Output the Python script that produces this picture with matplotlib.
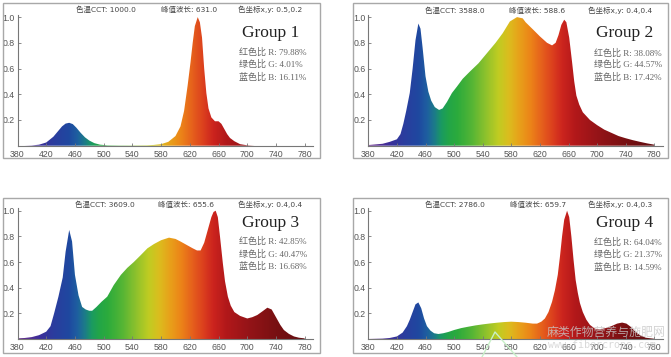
import numpy as np
import matplotlib
matplotlib.use("Agg")
import matplotlib.pyplot as plt
from matplotlib.colors import LinearSegmentedColormap
from matplotlib.patches import Polygon, Rectangle
from matplotlib.lines import Line2D

# ---------------- data ----------------
groups = ["Group 1", "Group 2", "Group 3", "Group 4"]
cct = ["1000.0", "3588.0", "3609.0", "2786.0"]
peak_wl = ["631.0", "588.6", "655.6", "659.7"]
xy_coord = ["0.5,0.2", "0.4,0.4", "0.4,0.4", "0.4,0.3"]
red_ratio = ["79.88%", "38.08%", "42.85%", "64.04%"]
green_ratio = ["4.01%", "44.57%", "40.47%", "21.37%"]
blue_ratio = ["16.11%", "17.42%", "16.68%", "14.59%"]

wl1 = [380, 390, 400, 410, 420, 430, 436, 442, 447, 452, 457, 462, 468, 474, 480, 487, 495, 505, 520,
       540, 560, 570, 580, 590, 600, 607, 612, 617, 621, 624, 627, 631, 634, 637, 640, 643, 646, 650,
       655, 660, 664, 668, 672, 676, 682, 690, 700, 710]
v1 = [0, 0, 0.002, 0.008, 0.025, 0.07, 0.11, 0.15, 0.172, 0.178, 0.168, 0.14, 0.10, 0.065, 0.04, 0.02,
      0.008, 0.003, 0.002, 0.002, 0.003, 0.006, 0.012, 0.03, 0.075, 0.15, 0.27, 0.47, 0.65, 0.80, 0.93,
      1.0, 0.96, 0.84, 0.60, 0.41, 0.29, 0.22, 0.19, 0.19, 0.17, 0.13, 0.09, 0.06, 0.035, 0.012, 0.003, 0.0]

wl2 = [380, 390, 400, 410, 420, 425, 429, 433, 438, 442, 446, 450, 453, 456, 460, 464, 468, 473, 479,
       484, 490, 497, 504, 512, 522, 534, 546, 558, 568, 578, 588, 596, 600, 611, 620, 630, 637, 642,
       646, 650, 654, 657, 661, 665, 668, 671, 675, 680, 690, 700, 710, 720, 730, 740, 750, 760, 770, 780]
v2 = [0.005, 0.01, 0.015, 0.03, 0.05, 0.09, 0.17, 0.27, 0.41, 0.6, 0.82, 0.95, 0.91, 0.76, 0.54, 0.42,
      0.35, 0.30, 0.278, 0.29, 0.34, 0.41, 0.46, 0.52, 0.576, 0.64, 0.72, 0.80, 0.875, 0.966, 1.0, 0.99,
      0.96, 0.90, 0.85, 0.80, 0.78, 0.80, 0.86, 0.94, 0.98, 0.96, 0.84, 0.65, 0.50, 0.39, 0.32, 0.26,
      0.20, 0.16, 0.125, 0.10, 0.075, 0.058, 0.043, 0.03, 0.018, 0.008]

wl3 = [380, 390, 400, 410, 420, 426, 431, 437, 443, 447, 452, 456, 460, 465, 470, 475, 480, 484, 490,
       497, 505, 514, 524, 533, 542, 551, 561, 570, 580, 591, 600, 607, 615, 624, 630, 635, 640, 645,
       650, 653, 656, 659, 662, 666, 669, 673, 677, 682, 690, 700, 707, 714, 721, 728, 734, 740, 746,
       751, 758, 765, 772, 780]
v3 = [0.005, 0.008, 0.015, 0.03, 0.057, 0.10, 0.20, 0.33, 0.48, 0.68, 0.85, 0.76, 0.50, 0.34, 0.25,
      0.23, 0.22, 0.22, 0.25, 0.29, 0.33, 0.42, 0.50, 0.555, 0.60, 0.65, 0.707, 0.74, 0.77, 0.79, 0.78,
      0.76, 0.735, 0.707, 0.69, 0.69, 0.75, 0.85, 0.95, 0.99, 1.0, 0.95, 0.80, 0.59, 0.45, 0.33, 0.26,
      0.21, 0.18, 0.16, 0.17, 0.187, 0.215, 0.244, 0.23, 0.17, 0.11, 0.07, 0.04, 0.02, 0.01, 0.005]

wl4 = [380, 400, 410, 420, 428, 434, 438, 442, 446, 450, 454, 458, 462, 467, 472, 478, 485, 492, 500,
       510, 520, 530, 540, 550, 560, 570, 580, 590, 600, 610, 616, 622, 627, 632, 637, 641, 645, 648,
       651, 654, 658, 661, 664, 667, 670, 673, 676, 680, 685, 690, 697, 704, 712, 720, 728, 735, 741,
       747, 753, 760, 768, 780]
v4 = [0.0, 0.003, 0.008, 0.02, 0.05, 0.10, 0.15, 0.21, 0.27, 0.285, 0.24, 0.16, 0.10, 0.065, 0.045,
      0.039, 0.045, 0.055, 0.07, 0.085, 0.096, 0.106, 0.114, 0.121, 0.127, 0.132, 0.135, 0.132, 0.127,
      0.12, 0.12, 0.135, 0.16, 0.21, 0.29, 0.38, 0.50, 0.64, 0.80, 0.93, 1.0, 0.95, 0.80, 0.62, 0.46,
      0.36, 0.28, 0.21, 0.15, 0.11, 0.08, 0.075, 0.085, 0.10, 0.12, 0.128, 0.12, 0.095, 0.06, 0.03,
      0.01, 0.002]

spectra = [(wl1, v1), (wl2, v2), (wl3, v3), (wl4, v4)]
xticks = [380, 420, 460, 500, 540, 580, 620, 660, 700, 740, 780]
yticks = [0.2, 0.4, 0.6, 0.8, 1.0]

# ---------------- style ----------------
W, H = 671, 357
XMIN, XMAX = 380, 792
YMAX = 1.02

stops = [(380, "#6a2c8c"), (410, "#3b2f9a"), (430, "#2a3d9e"), (450, "#1f48a0"), (462, "#1e5fa0"),
         (472, "#1c7a8a"), (482, "#1a9a62"), (492, "#22a548"), (505, "#2cab3c"), (525, "#55b535"),
         (545, "#90c22c"), (562, "#c0cc22"), (577, "#dcbc1e"), (592, "#e8a01a"), (607, "#ec8418"),
         (622, "#e6621c"), (638, "#dc401e"), (652, "#cc241e"), (670, "#b2181a"), (700, "#961418"),
         (740, "#781012"), (792, "#5c0c10")]
cmap = LinearSegmentedColormap.from_list(
    "spec", [((w - XMIN) / (XMAX - XMIN), c) for w, c in stops])

axes_px = [
    dict(x380=17.5, ppn=0.718, y0=145.7, ppu=128.6, frame=(3, 3, 320, 158)),
    dict(x380=368.3, ppn=0.715, y0=145.7, ppu=128.6, frame=(353, 3, 668, 158)),
    dict(x380=17.5, ppn=0.718, y0=339.0, ppu=128.3, frame=(3, 198, 320, 353)),
    dict(x380=368.3, ppn=0.715, y0=339.0, ppu=128.3, frame=(353, 198, 668, 353)),
]
header_pos = [
    (9.5, [106, 189, 270]),
    (10, [455, 537, 620]),
    (204.5, [105, 186.5, 270]),
    (204.5, [455, 538, 620]),
]
title_pos = [(271, 33), (625, 33), (271, 223), (625, 223)]
ratio_pos = [(239, [52.7, 64.6, 77.0]), (594, [53, 64.8, 77.0]),
             (239, [241.8, 254, 266.5]), (594, [242, 254.5, 267])]

fig = plt.figure(figsize=(W / 100, H / 100), dpi=100)
fig.patch.set_facecolor("white")


def fx(px):
    return px / W


def fy(py):
    return 1 - py / H


grad = np.linspace(XMIN, XMAX, 800).reshape(1, -1)
cjk_sans = ["DejaVu Sans", "Noto Sans CJK SC"]
cjk_serif = ["Liberation Serif", "Noto Sans CJK SC"]

for i, (wl, v) in enumerate(spectra):
    p = axes_px[i]
    left = p["x380"]
    width = (XMAX - XMIN) * p["ppn"]
    ax = fig.add_axes([fx(left), fy(p["y0"]), width / W, YMAX * p["ppu"] / H])
    ax.set_facecolor("none")

    verts = [(wl[0], 0)] + list(zip(wl, v)) + [(wl[-1], 0)]
    poly = Polygon(verts, closed=True, facecolor="none", edgecolor="none")
    ax.add_patch(poly)
    im = ax.imshow(grad, extent=[XMIN, XMAX, 0, YMAX], aspect="auto", cmap=cmap,
                   vmin=XMIN, vmax=XMAX, origin="lower", interpolation="bilinear")
    im.set_clip_path(poly)

    ax.set_xlim(XMIN, XMAX)
    ax.set_ylim(0, YMAX)
    ax.set_xticks(xticks)
    ax.set_yticks(yticks)
    ax.set_yticklabels([f"{t:.1f}" for t in yticks])
    for s in ["top", "right"]:
        ax.spines[s].set_visible(False)
    for s in ["left", "bottom"]:
        ax.spines[s].set_color("#777777")
        ax.spines[s].set_linewidth(0.8)
    ax.tick_params(direction="in", length=2.5, width=0.6, color="#777777",
                   labelsize=6.3, labelcolor="#555555", pad=3)
    ax.tick_params(axis="y", pad=2)
    for lab in ax.get_xticklabels() + ax.get_yticklabels():
        lab.set_family("Liberation Sans")

    x0, y0f, x1, y1f = p["frame"]
    fig.patches.append(Rectangle((fx(x0), fy(y1f)), (x1 - x0) / W, (y1f - y0f) / H,
                                 transform=fig.transFigure, fill=False,
                                 edgecolor="#a8a8a8", linewidth=1.0))

    hy, hxs = header_pos[i]
    htexts = [f"色温CCT: {cct[i]}", f"峰值波长: {peak_wl[i]}", f"色坐标x,y: {xy_coord[i]}"]
    for hx, t in zip(hxs, htexts):
        fig.text(fx(hx), fy(hy), t, ha="center", va="center", fontsize=5.4,
                 color="#444444", family=cjk_sans)

    tx, ty = title_pos[i]
    fig.text(fx(tx), fy(ty), groups[i], ha="center", va="center", fontsize=12.5,
             color="#222222", family="Liberation Serif")

    rx, rys = ratio_pos[i]
    rtexts = [f"红色比 R: {red_ratio[i]}", f"绿色比 G: {green_ratio[i]}", f"蓝色比 B: {blue_ratio[i]}"]
    for ry, t in zip(rys, rtexts):
        fig.text(fx(rx), fy(ry), t, ha="left", va="center", fontsize=6.5,
                 color="#666666", family=cjk_serif)

# watermark (overlaps the last panel as in the reference)
fig.text(fx(606), fy(332), "麻类作物营养与施肥网", ha="center", va="center", fontsize=8.6,
         color="#c8c8c8", alpha=0.8, family=["Noto Sans CJK SC"])
fig.text(fx(602), fy(345), "www.fibercrops.com", ha="center", va="center", fontsize=7.2,
         color="#d0d0d0", alpha=0.8, family=["DejaVu Sans Mono"])
fig.lines.append(Line2D([fx(482), fx(495), fx(517)], [fy(357), fy(332), fy(357)],
                        transform=fig.transFigure, color="#c8f0c8", linewidth=1.0))

fig.savefig("out.png", dpi=100, facecolor="white")
